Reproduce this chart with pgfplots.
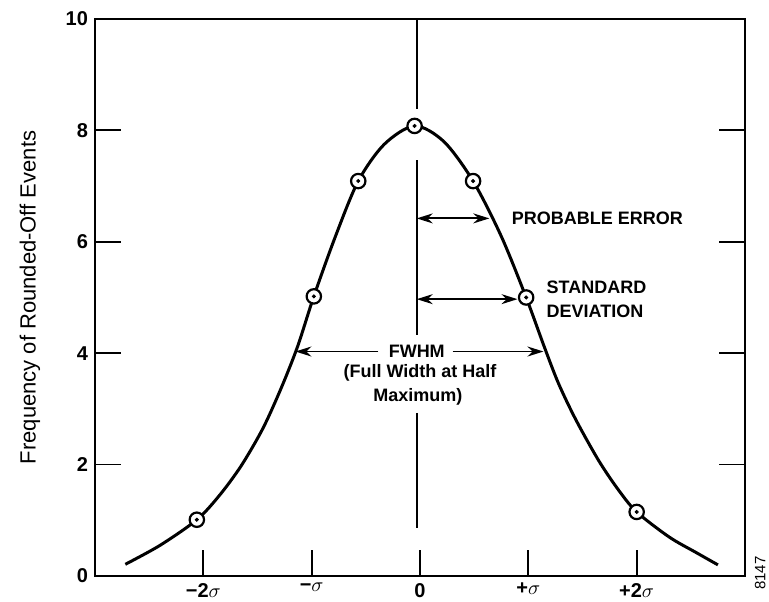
\documentclass[border=0pt]{standalone}
\usepackage{fontspec}
\setmainfont{Liberation Sans}
\usepackage{pgfplots}
\pgfplotsset{compat=1.18}
\usetikzlibrary{arrows.meta}
\begin{document}
\begin{tikzpicture}
\begin{axis}[
  scale only axis, width=325pt, height=278.5pt,
  xmin=-3, xmax=3, ymin=0, ymax=10,
  axis line style={line width=1pt},
  tick align=inside, major tick length=13pt,
  every tick/.style={black, line width=0.9pt},
  xtick={-2,-1,0,1,2},
  xticklabels={−2$\sigma$,−$\sigma$,0,+$\sigma$,+2$\sigma$},
  ytick={0,2,4,6,8,10},
  xtick pos=bottom, ytick pos=both,
  /pgf/number format/assume math mode=true,
  tick label style={font=\fontsize{10}{12}\selectfont\bfseries},
  ylabel={Frequency of Rounded-Off Events},
  every axis y label/.style={at={(axis description cs:-0.1,0.5)}, rotate=90, anchor=center, font=\fontsize{11}{13}\selectfont},
  clip=false,
]
% curve
\addplot[black, line width=1.5pt, smooth] coordinates {
(-2.72,0.21) (-2.4,0.55) (-2.06,1.01) (-1.85,1.45) (-1.65,1.98) (-1.45,2.65) (-1.28,3.38) (-1.13,4.12) (-0.98,5.02)
(-0.78,6.1) (-0.57,7.09) (-0.33,7.75) (-0.05,8.08) (0.22,7.8) (0.49,7.09) (0.75,6.1) (0.98,5.0)
(1.15,4.1) (1.28,3.45) (1.44,2.8) (1.65,2.07) (1.83,1.55) (2.0,1.15) (2.3,0.7) (2.55,0.42) (2.75,0.2)
};
% data points
\addplot[only marks, mark=*, mark size=3.6pt, mark options={fill=white, draw=black, line width=1.1pt}] coordinates {
(-2.06,1.01) (-0.98,5.02) (-0.57,7.09) (-0.05,8.08) (0.49,7.09) (0.98,5.0) (2.0,1.15)
};
\addplot[only marks, mark=*, mark size=0.8pt, black] coordinates {
(-2.06,1.01) (-0.98,5.02) (-0.57,7.09) (-0.05,8.08) (0.49,7.09) (0.98,5.0) (2.0,1.15)
};
% centre line
\draw[line width=0.9pt] (axis cs:-0.03,10) -- (axis cs:-0.03,8.38);
\draw[line width=0.9pt] (axis cs:-0.03,7.46) -- (axis cs:-0.03,4.32);
\draw[line width=0.9pt] (axis cs:-0.03,2.93) -- (axis cs:-0.03,0.86);
% arrows
\draw[line width=0.9pt, {Stealth[length=8pt,width=5pt]}-{Stealth[length=8pt,width=5pt]}] (axis cs:-0.03,6.42) -- (axis cs:0.64,6.42);
\draw[line width=0.9pt, {Stealth[length=8pt,width=5pt]}-{Stealth[length=8pt,width=5pt]}] (axis cs:-0.03,4.97) -- (axis cs:0.90,4.97);
\draw[line width=0.9pt, -{Stealth[length=8pt,width=5pt]}] (axis cs:-0.385,4.03) -- (axis cs:-1.15,4.03);
\draw[line width=0.9pt, -{Stealth[length=8pt,width=5pt]}] (axis cs:0.30,4.03) -- (axis cs:1.14,4.03);
% texts
\node[font=\fontsize{9}{11}\selectfont\bfseries] at (axis cs:-0.03,4.03) {FWHM};
\node[font=\fontsize{9}{11}\selectfont\bfseries] at (axis cs:0.0,3.65) {(Full Width at Half};
\node[font=\fontsize{9}{11}\selectfont\bfseries] at (axis cs:-0.02,3.22) {Maximum)};
\node[font=\fontsize{9}{11}\selectfont\bfseries, anchor=west, inner sep=0pt] at (axis cs:0.845,6.42) {PROBABLE ERROR};
\node[font=\fontsize{9}{11}\selectfont\bfseries, anchor=west, inner sep=0pt] at (axis cs:1.165,5.18) {STANDARD};
\node[font=\fontsize{9}{11}\selectfont\bfseries, anchor=west, inner sep=0pt] at (axis cs:1.165,4.75) {DEVIATION};
\node[font=\fontsize{7.5}{9}\selectfont, rotate=90] at (axis cs:3.14,0.05) {8147};
\coordinate (SW) at (rel axis cs:0,0);
\coordinate (NE) at (rel axis cs:1,1);
\end{axis}
\pgfresetboundingbox
\path ([shift={(-47.5pt,-13pt)}]SW) rectangle ([shift={(12pt,9.5pt)}]NE);
\end{tikzpicture}
\end{document}
